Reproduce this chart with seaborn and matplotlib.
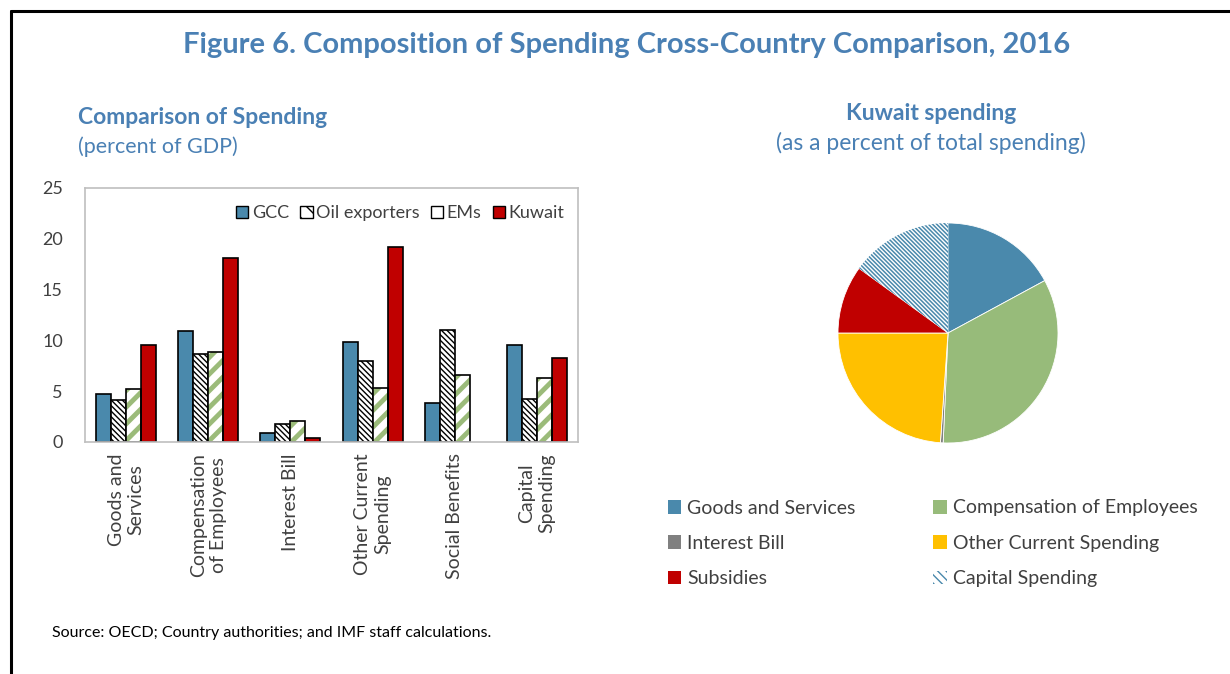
import matplotlib
matplotlib.use("Agg")
import matplotlib.pyplot as plt
from matplotlib.patches import Patch, Rectangle
from matplotlib.lines import Line2D
import seaborn as sns
import pandas as pd
import numpy as np

# ---------------- data ----------------
categories = ["Goods and\nServices", "Compensation\nof Employees", "Interest Bill",
              "Other Current\nSpending", "Social Benefits", "Capital\nSpending"]
groups = ["GCC", "Oil exporters", "EMs", "Kuwait"]
gcc = [4.7, 10.9, 0.9, 9.8, 3.8, 9.5]
oil_exporters = [4.1, 8.7, 1.8, 8.0, 11.0, 4.25]
ems = [5.2, 8.9, 2.1, 5.3, 6.6, 6.3]
kuwait = [9.5, 18.1, 0.4, 19.2, 0.0, 8.3]
y_ticks = [0, 5, 10, 15, 20, 25]

pie_labels = ["Goods and Services", "Compensation of Employees", "Interest Bill",
              "Other Current Spending", "Subsidies", "Capital Spending"]
pie_values = [17.1, 33.6, 0.4, 23.9, 10.0, 15.0]

# ---------------- style ----------------
BLUE = "#4A89AC"
RED = "#C00000"
GREEN = "#9BBB7A"
GREY = "#808080"
YELLOW = "#FFC000"
TITLE = "#4A80B4"
TXT = "#404040"

sns.set_theme(style="white")
plt.rcParams["font.family"] = ["Lato", "DejaVu Sans"]
plt.rcParams["hatch.linewidth"] = 1.0

fig = plt.figure(figsize=(12.3, 6.74), dpi=100)

# frame lines
fig.add_artist(Line2D([11 / 1230, 11 / 1230], [0, 1 - 11 / 674], color="black", lw=2.2))
fig.add_artist(Line2D([11 / 1230, 1], [1 - 11 / 674, 1 - 11 / 674], color="black", lw=2.2))

fig.text(627 / 1230, 1 - 45 / 674, "Figure 6. Composition of Spending Cross-Country Comparison, 2016",
         ha="center", va="center", fontsize=21, fontweight="bold", color=TITLE)

fig.text(78 / 1230, 1 - 118 / 674, "Comparison of Spending", ha="left", va="center",
         fontsize=16.5, fontweight="bold", color=TITLE)
fig.text(78 / 1230, 1 - 147 / 674, "(percent of GDP)", ha="left", va="center",
         fontsize=15.5, color=TITLE)

fig.text(931 / 1230, 1 - 113 / 674, "Kuwait spending", ha="center", va="center",
         fontsize=16.5, fontweight="bold", color=TITLE)
fig.text(931 / 1230, 1 - 143 / 674, "(as a percent of total spending)", ha="center", va="center",
         fontsize=16.5, color=TITLE)

fig.text(52 / 1230, 1 - 633 / 674, "Source: OECD; Country authorities; and IMF staff calculations.",
         ha="left", va="center", fontsize=11.5, color="black")

# ---------------- bar chart ----------------
ax = fig.add_axes([85 / 1230, 1 - 442 / 674, (578 - 85) / 1230, (442 - 188) / 674])
rows = []
for g, vals in zip(groups, [gcc, oil_exporters, ems, kuwait]):
    for c, v in zip(categories, vals):
        rows.append({"cat": c, "group": g, "val": v})
df = pd.DataFrame(rows)

sns.barplot(data=df, x="cat", y="val", hue="group", order=categories, hue_order=groups,
            palette=[BLUE, "white", "white", RED], width=0.73, ax=ax,
            edgecolor="black", linewidth=1.2, legend=False, errorbar=None, saturation=1)

bars = [p for p in ax.patches if isinstance(p, Rectangle)]
n = len(categories)
for gi, g in enumerate(groups):
    for ci in range(n):
        p = bars[gi * n + ci]
        if p.get_height() == 0:
            p.set_visible(False)
            continue
        if g == "Oil exporters":
            p.set_hatch("\\\\\\\\\\\\")
        elif g == "EMs":
            p.set_hatch("//")
            p.set_edgecolor(GREEN)
            p.set_linewidth(0)
            try:
                p.set_hatch_linewidth(3.5)
            except Exception:
                pass
            ax.add_patch(Rectangle((p.get_x(), p.get_y()), p.get_width(), p.get_height(),
                                   fill=False, edgecolor="black", linewidth=1.2, zorder=p.get_zorder() + 0.1))

ax.set_ylim(0, 25)
ax.set_xlim(-0.5, n - 0.5)
ax.set_yticks(y_ticks)
ax.set_xlabel("")
ax.set_ylabel("")
ax.tick_params(axis="y", labelsize=13, colors=TXT, pad=16, length=0)
ax.set_xticks(range(n))
ax.set_xticklabels(categories, rotation=90, fontsize=14, color=TXT, ha="center", va="top",
                   multialignment="center")
ax.tick_params(axis="x", length=0, pad=8)
ax.set_xticks(np.arange(0.5, n - 0.5, 1), minor=True)
ax.tick_params(axis="x", which="minor", direction="in", length=5, color="#BFBFBF", width=1)
for s in ax.spines.values():
    s.set_visible(True)
    s.set_color("#BFBFBF")
    s.set_linewidth(1.2)

bar_handles = [
    Patch(facecolor=BLUE, edgecolor="black", lw=1),
    Patch(facecolor="white", edgecolor="black", hatch="\\\\", lw=1),
    Patch(facecolor="white", edgecolor="black", lw=1),
    Patch(facecolor=RED, edgecolor="black", lw=1),
]
leg = ax.legend(bar_handles, groups, loc="upper right", bbox_to_anchor=(0.995, 0.975), ncol=4,
                frameon=False, fontsize=13, handlelength=0.7, handleheight=0.7,
                handletextpad=0.2, columnspacing=0.6, borderaxespad=0.2)
for t in leg.get_texts():
    t.set_color(TXT)

# ---------------- pie chart ----------------
pax = fig.add_axes([(948 - 110) / 1230, 1 - (333 + 110) / 674, 220 / 1230, 220 / 674])
pie_colors = [BLUE, "#97BB7A", GREY, YELLOW, RED, "white"]
wedges, _ = pax.pie(pie_values, colors=pie_colors, startangle=90, counterclock=False,
                    wedgeprops=dict(linewidth=0.6, edgecolor="white"))
wedges[-1].set_hatch("\\\\\\\\\\\\\\\\")
wedges[-1].set_edgecolor(BLUE)
wedges[-1].set_linewidth(0)
try:
    wedges[-1].set_hatch_linewidth(1.1)
except Exception:
    pass
pax.set_xlim(-1.0, 1.0)
pax.set_ylim(-1.0, 1.0)
pax.set_aspect("equal")

pie_handles = []
for lab, col in zip(pie_labels, pie_colors):
    if lab == "Capital Spending":
        pie_handles.append(Patch(facecolor="white", edgecolor=BLUE, hatch="\\\\\\\\", lw=0))
    else:
        pie_handles.append(Patch(facecolor=col, edgecolor="none"))
# reorder for row-wise 2-column layout
order = [0, 2, 4, 1, 3, 5]
pleg = fig.legend([pie_handles[i] for i in order], [pie_labels[i] for i in order],
                  loc="upper left", bbox_to_anchor=(650 / 1230, 1 - 482 / 674), ncol=2,
                  frameon=False, fontsize=14, handlelength=0.7, handleheight=0.7,
                  handletextpad=0.3, columnspacing=4.0, labelspacing=0.95)
for t in pleg.get_texts():
    t.set_color(TXT)

fig.savefig("out.png", dpi=100, facecolor="white")
